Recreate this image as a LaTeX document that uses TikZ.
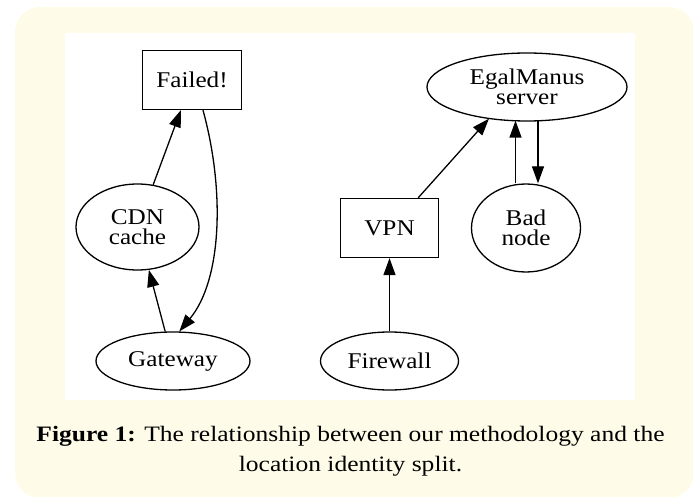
\documentclass[tikz,border=0pt]{standalone}
\usepackage{fontspec}
\usetikzlibrary{arrows.meta,shapes.geometric,calc}
\newfontfamily\gvfont[FakeStretch=1.12]{Liberation Serif}
\newfontfamily\capfont[FakeStretch=1.16]{Liberation Serif}
\definecolor{cream}{RGB}{254,252,232}
\tikzset{
  gv/.style={draw=black,line width=1.3pt,font=\gvfont\fontsize{22.5}{20.5}\selectfont,inner sep=0pt,align=center},
  gvbox/.style={gv,rectangle,minimum width=99pt,minimum height=59pt},
  gvell/.style={gv,ellipse},
  gvedge/.style={line width=1.3pt,-{Triangle[length=17pt,width=12pt]}},
  captext/.style={anchor=base,inner sep=0pt,font=\capfont\fontsize{22}{28}\selectfont}
}
\begin{document}
\begin{tikzpicture}[x=1pt,y=-1pt]
\useasboundingbox (0,0) rectangle (693,497);
\begin{scope}
\clip (0,0) rectangle (693,497);
\fill[cream,rounded corners=25pt] (15,7) rectangle (694,498);
\end{scope}
\fill[white] (65,33) rectangle (635,400);
\node[gvbox] (failed) at (192,80) {Failed!};
\node[gvell,minimum width=123pt,minimum height=86pt] (cdn) at (137.5,227) {CDN\\cache};
\node[gvell,minimum width=154pt,minimum height=58pt] (gateway) at (173,361) {Gateway};
\node[gvbox,minimum width=98pt] (vpn) at (389.5,228) {VPN};
\node[gvell,minimum width=138pt,minimum height=58pt] (firewall) at (389.5,361) {Firewall};
\node[gvell,minimum width=200pt,minimum height=68pt] (egal) at (527,87) {EgalManus\\server};
\node[gvell,minimum width=109pt,minimum height=88pt] (bad) at (526,228) {Bad\\node};
\coordinate (vpnout) at ([xshift=-21pt]vpn.north east);
\coordinate (egalin) at ($(egal.south)+(-38,-3)$);
\draw[gvedge] (cdn) -- (failed);
\draw[gvedge] (gateway) -- (cdn);
\draw[gvedge] (failed.-70) .. controls (225,190) and (222,280) .. (gateway.78);
\draw[gvedge] (firewall) -- (vpn);
\draw[gvedge] (vpnout) -- (egalin);
\draw[gvedge] ([xshift=-10.5pt]bad.north) -- ([xshift=-11.5pt,yshift=1pt]egal.south);
\draw[gvedge] ([xshift=11pt,yshift=1pt]egal.south) -- ([xshift=12pt]bad.north);
\node[captext] (cap1) at (350.5,441.7) {\textbf{Figure 1:} The relationship between our methodology and the};
\node[captext] (cap2) at (350.5,471.7) {location identity split.};
\end{tikzpicture}
\end{document}
